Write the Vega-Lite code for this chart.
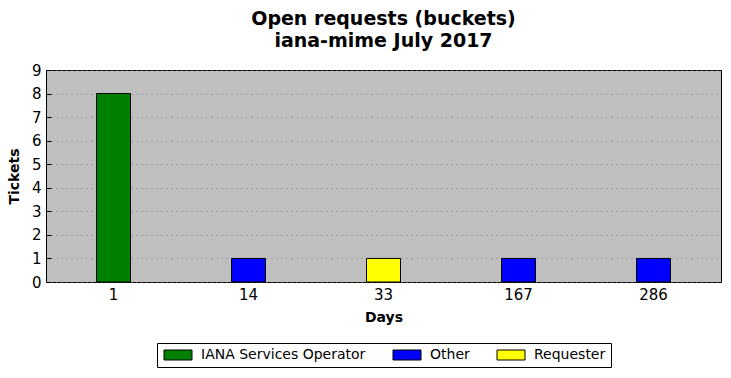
{
  "$schema": "https://vega.github.io/schema/vega-lite/v6.json",
  "width": 675,
  "height": 212,
  "autosize": "none",
  "padding": {"left": 46, "top": 70, "right": 10, "bottom": 96},
  "background": "white",
  "title": {
    "text": ["Open requests (buckets)", "iana-mime July 2017"],
    "font": "DejaVu Sans",
    "fontSize": 19,
    "fontWeight": "bold",
    "color": "black",
    "anchor": "middle",
    "lineHeight": 22,
    "offset": 12
  },
  "config": {
    "view": {"fill": "#bfbfbf", "stroke": "black", "strokeWidth": 1},
    "axis": {"labelFont": "DejaVu Sans", "titleFont": "DejaVu Sans", "labelColor": "black", "titleColor": "black", "domain": false, "tickColor": "black"}
  },
  "data": {
    "values": [
      {"days": "1", "tickets": 8, "owner": "IANA Services Operator"},
      {"days": "14", "tickets": 1, "owner": "Other"},
      {"days": "33", "tickets": 1, "owner": "Requester"},
      {"days": "167", "tickets": 1, "owner": "Other"},
      {"days": "286", "tickets": 1, "owner": "Other"}
    ]
  },
  "mark": {"type": "bar", "width": 34, "stroke": "black", "strokeWidth": 1},
  "encoding": {
    "x": {
      "field": "days",
      "type": "ordinal",
      "sort": ["1", "14", "33", "167", "286"],
      "scale": {"paddingInner": 0, "paddingOuter": 0},
      "axis": {"title": "Days", "titleFontSize": 14, "titleFontWeight": "bold", "titlePadding": 8, "labelFontSize": 15, "labelAngle": 0, "tickSize": -5, "labelPadding": 10, "grid": false}
    },
    "y": {
      "field": "tickets",
      "type": "quantitative",
      "scale": {"domain": [0, 9], "nice": false},
      "axis": {"title": "Tickets", "titleFontSize": 14, "titleFontWeight": "bold", "titlePadding": 10, "labelFontSize": 15, "values": [0,1,2,3,4,5,6,7,8,9], "tickSize": -5, "labelPadding": 10, "grid": true, "gridColor": "#808080", "gridDash": [1, 4], "gridWidth": 1}
    },
    "color": {
      "field": "owner",
      "type": "nominal",
      "scale": {"domain": ["IANA Services Operator", "Other", "Requester"], "range": ["#008000", "#0000ff", "#ffff00"]},
      "legend": {
        "title": null,
        "orient": "none",
        "direction": "horizontal",
        "legendX": 111,
        "legendY": 273,
        "padding": 5,
        "strokeColor": "black",
        "fillColor": "white",
        "symbolType": "M-1,-1H4.6V1H-1Z",
        "symbolSize": 100,
        "symbolStrokeColor": "black",
        "symbolStrokeWidth": 1,
        "symbolOpacity": 1,
        "labelFont": "DejaVu Sans",
        "labelFontSize": 14,
        "labelColor": "black",
        "labelLimit": 400,
        "columnPadding": 25,
        "labelOffset": 25
      }
    }
  }
}
